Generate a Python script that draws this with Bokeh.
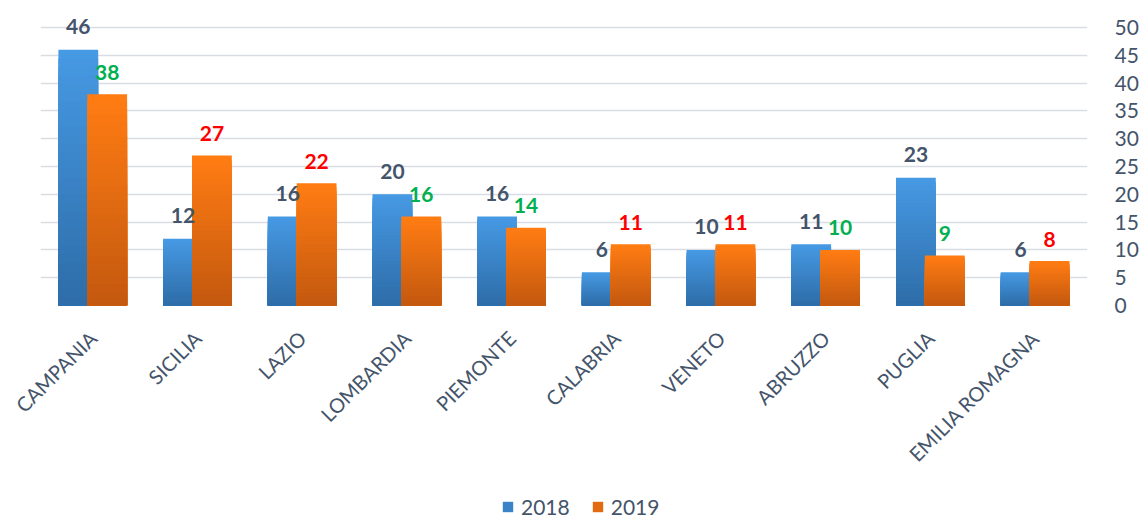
import math
from bokeh.plotting import figure
from bokeh.layouts import column
from bokeh.models import ColumnDataSource, FactorRange, Range1d, Legend, LegendItem, FixedTicker
from bokeh.transform import dodge
from bokeh.embed import file_html
from bokeh.resources import INLINE
from bokeh.core.properties import value

regions = ["CAMPANIA", "SICILIA", "LAZIO", "LOMBARDIA", "PIEMONTE",
           "CALABRIA", "VENETO", "ABRUZZO", "PUGLIA", "EMILIA ROMAGNA"]
v2018 = [46, 12, 16, 20, 16, 6, 10, 11, 23, 6]
v2019 = [38, 27, 22, 16, 14, 11, 11, 10, 9, 8]
years = ["2018", "2019"]
y_ticks = list(range(0, 51, 5))

FONT = "Lato"
TXT = "#44546A"
MAIN_H = 486

p = figure(width=1141, height=MAIN_H, x_range=FactorRange(*regions, range_padding=0),
           y_range=Range1d(0, 54.86), y_axis_location="right",
           output_backend="svg", toolbar_location=None,
           min_border_left=40, min_border_right=48, min_border_top=0,
           min_border_bottom=MAIN_H - 305)
p.outline_line_color = None
p.background_fill_color = "white"
p.xgrid.grid_line_color = None
p.ygrid.ticker = FixedTicker(ticks=y_ticks)
p.ygrid.grid_line_color = "#D9DDE3"
p.ygrid.grid_line_width = 1.6

p.yaxis.ticker = FixedTicker(ticks=y_ticks)
p.yaxis.axis_line_color = None
p.yaxis.major_tick_line_color = None
p.yaxis.minor_tick_line_color = None
p.yaxis.major_label_standoff = 21
p.yaxis.major_label_text_font = FONT
p.yaxis.major_label_text_font_size = "21px"
p.yaxis.major_label_text_color = TXT

p.xaxis.axis_line_color = None
p.xaxis.major_tick_line_color = None
p.xaxis.major_label_orientation = math.pi / 4
p.xaxis.major_label_standoff = 23
p.xaxis.major_label_text_font = FONT
p.xaxis.major_label_text_font_size = "20px"
p.xaxis.major_label_text_color = TXT


def mix(c1, c2, t):
    a = [int(c1[i:i + 2], 16) for i in (1, 3, 5)]
    b = [int(c2[i:i + 2], 16) for i in (1, 3, 5)]
    return "#%02x%02x%02x" % tuple(round(a[j] + (b[j] - a[j]) * t) for j in range(3))


N = 30
series = [(v2018, -0.139, "#4699E3", "#2E6DA9"), (v2019, 0.137, "#FF7C13", "#C4590F")]
for vals, off, ctop, cbot in series:
    for k in range(N):
        frac = (N - k) / N
        src = ColumnDataSource(dict(x=regions, top=[v * frac for v in vals]))
        p.vbar(x=dodge("x", off, range=p.x_range), top="top", bottom=0, width=0.38,
               source=src, fill_color=mix(ctop, cbot, k / (N - 1)), line_color=None)

lab18 = ColumnDataSource(dict(x=regions, y=v2018, t=[str(v) for v in v2018]))
lab19 = ColumnDataSource(dict(x=regions, y=v2019, t=[str(v) for v in v2019],
                              c=["#00B050" if b < a else "#FF0000" for a, b in zip(v2018, v2019)]))
p.text(x=dodge("x", -0.139, range=p.x_range), y="y", text="t", source=lab18,
       text_align="center", text_baseline="middle", y_offset=-23,
       text_font=value(FONT), text_font_style="bold", text_font_size="21px", text_color=TXT)
p.text(x=dodge("x", 0.137, range=p.x_range), y="y", text="t", source=lab19,
       text_align="center", text_baseline="middle", y_offset=-22,
       text_font=value(FONT), text_font_style="bold", text_font_size="21px", text_color="c")

# legend strip
lf = figure(width=1141, height=519 - MAIN_H, x_range=Range1d(0, 1), y_range=Range1d(0, 1),
            output_backend="svg", toolbar_location=None, min_border=0)
lf.axis.visible = False
lf.grid.grid_line_color = None
lf.outline_line_color = None
r18 = lf.vbar(x=[5], top=[0], width=0.1, fill_color=mix("#4699E3", "#2E6DA9", 0.5), line_color=None)
r19 = lf.vbar(x=[5], top=[0], width=0.1, fill_color=mix("#FF7C13", "#C4590F", 0.5), line_color=None)
legend = Legend(items=[LegendItem(label=years[0], renderers=[r18]),
                       LegendItem(label=years[1], renderers=[r19])],
                orientation="horizontal", location=(461, 0),
                border_line_color=None, background_fill_alpha=0,
                label_text_font=FONT, label_text_font_size="21px", label_text_color=TXT,
                glyph_width=13, glyph_height=13, label_standoff=7, spacing=21,
                padding=0, margin=0)
lf.add_layout(legend, "center")

layout = column(p, lf, spacing=0)
open("out.html", "w").write(file_html(layout, INLINE))
